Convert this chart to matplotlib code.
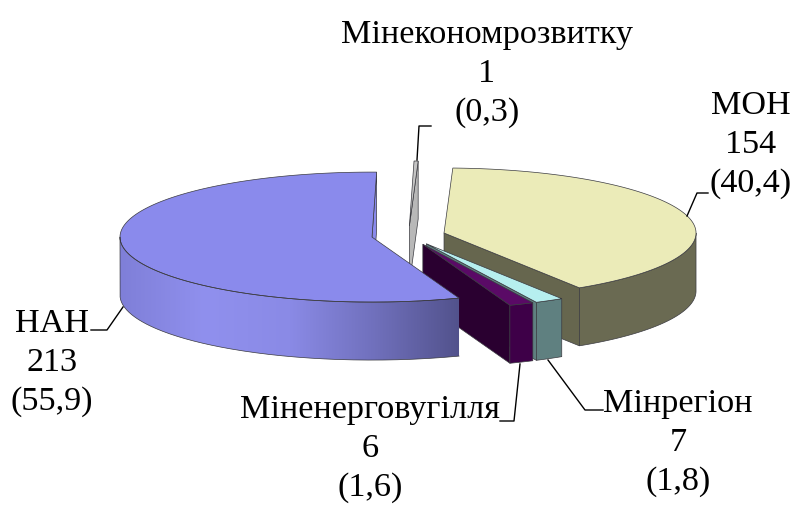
import numpy as np
import matplotlib
matplotlib.use('Agg')
import matplotlib.pyplot as plt
from matplotlib.colors import LinearSegmentedColormap

names = ['МОН', 'Мінрегіон', 'Міненерговугілля', 'НАН', 'Мінекономрозвитку']
counts = [154, 7, 6, 213, 1]
percents = ['40,4', '1,8', '1,6', '55,9', '0,3']

top_colors = ['#ebebb8', '#b6efef', '#5a0a66', '#8a8aec', '#c4c4c4']
side_colors = ['#6a6a52', '#5f8080', '#3e0048', '#7b7bd0', '#b4b4b4']
face_colors = ['#66664e', '#5f8080', '#2a0030', '#8a8aec', '#b8b8b8']
blue_side = ['#7f7fd8', '#9090ee', '#8a8ae6', '#7070bc', '#52528c']

# pie geometry in pixels
cx, cy = 408.4, 235.5
rx, ry = 252, 65
depth = 58
explode = 0.1465
start = 2.0
edge = '#3a3a40'

# label text centre x, y of middle line, then leader line points
label_x = [751, 678, 370, 52, 487]
label_y = [145, 443, 449, 363, 74]
leaders = [
    [(687, 216), (697, 193), (708, 193)],
    [(548, 360), (585, 410), (603, 410)],
    [(520, 364), (514, 421), (500, 421)],
    [(123, 307), (107, 330), (91, 330)],
    [(417, 160), (419, 126), (431, 126)],
]


def rim(x0, y0, t):
    t = np.radians(t)
    return x0 + rx * np.sin(t), y0 - ry * np.cos(t)


def draw_slice(i, t1, t2):
    mid = np.radians((t1 + t2) / 2)
    x0 = cx + rx * explode * np.sin(mid)
    y0 = cy - ry * explode * np.cos(mid)

    # cut face at the end of the slice
    xe, ye = rim(x0, y0, t2)
    ax.fill([x0, xe, xe, x0], [y0, ye, ye + depth, y0 + depth],
            facecolor=face_colors[i], edgecolor=edge, linewidth=0.5)

    # outer wall, only the part facing us
    a = max(t1, 90)
    b = min(t2, 270)
    if b > a:
        tt = np.linspace(a, b, 200)
        xs, ys = rim(x0, y0, tt)
        wx = np.concatenate([xs, xs[::-1]])
        wy = np.concatenate([ys, ys[::-1] + depth])
        if names[i] == 'НАН':
            patch = ax.fill(wx, wy, facecolor='none', edgecolor='none')[0]
            cmap = LinearSegmentedColormap.from_list('side', blue_side)
            grad = np.linspace(0, 1, 256).reshape(1, -1)
            im = ax.imshow(grad, cmap=cmap, aspect='auto', zorder=patch.get_zorder(),
                           extent=[xs.min(), xs.max(), wy.max(), wy.min()])
            im.set_clip_path(patch)
            ax.plot(wx, wy, color=edge, linewidth=0.5)
        else:
            ax.fill(wx, wy, facecolor=side_colors[i], edgecolor=edge, linewidth=0.5)

    # top of the slice
    tt = np.linspace(t1, t2, 200)
    xs, ys = rim(x0, y0, tt)
    ax.fill(np.r_[x0, xs], np.r_[y0, ys], facecolor=top_colors[i],
            edgecolor=edge, linewidth=0.5)


fig = plt.figure(figsize=(7.97, 5.05), dpi=100)
ax = fig.add_axes([0, 0, 1, 1])
ax.axis('off')

total = sum(counts)
bounds = start + np.r_[0, np.cumsum(counts)] / total * 360

# back to front
for i in [4, 0, 1, 2, 3]:
    draw_slice(i, bounds[i], bounds[i + 1])

ax.set_xlim(0, 797)
ax.set_ylim(505, 0)

for i in range(len(names)):
    pts = np.array(leaders[i])
    ax.plot(pts[:, 0], pts[:, 1], color='black', linewidth=1)
    txt = f'{names[i]}\n{counts[i]}\n({percents[i]})'
    ax.text(label_x[i], label_y[i], txt, family='Liberation Serif', fontsize=24.6,
            ha='center', va='center', linespacing=1.36, color='black')

fig.savefig('out.png', dpi=100)
